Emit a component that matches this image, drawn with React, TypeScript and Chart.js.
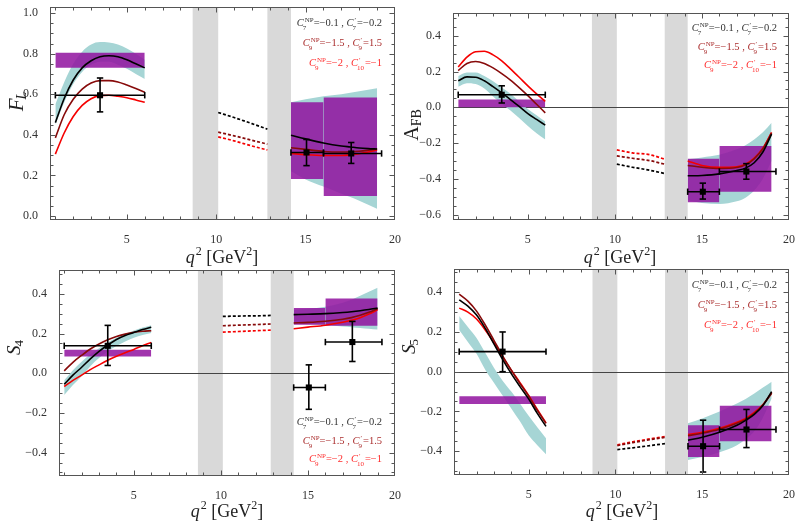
import React, { useEffect, useRef } from "react";
import { Chart, registerables } from "chart.js";

Chart.register(...registerables);

// ---------- q² grids (GeV²) ----------
const qLow = [1, 1.5, 2, 2.5, 3, 3.5, 4, 4.5, 5, 5.5, 6];
const qMid = [10.11, 11, 12, 12.86];
const qHigh = [14.18, 15, 16, 17, 17.5, 18, 18.5, 19];

// charmonium veto windows
const vetoBands = [
  [8.68, 10.11],
  [12.86, 14.18],
];

// experimental bins and data points
const binLo = [1, 14.18, 16];
const binHi = [6, 16, 19];
const pointQ = [3.5, 15.05, 17.55];
const pointQLo = [1, 14.18, 16];
const pointQHi = [6, 16, 19.25];

// ---------- F_L ----------
const flBlackLow = [0.46, 0.58, 0.67, 0.73, 0.765, 0.785, 0.79, 0.785, 0.77, 0.75, 0.73];
const flDarkLow = [0.385, 0.5, 0.575, 0.625, 0.655, 0.667, 0.667, 0.66, 0.645, 0.628, 0.61];
const flRedLow = [0.305, 0.41, 0.49, 0.545, 0.578, 0.593, 0.595, 0.59, 0.583, 0.572, 0.56];
const flSmLoLow = [0.45, 0.56, 0.65, 0.71, 0.745, 0.76, 0.76, 0.745, 0.725, 0.7, 0.675];
const flSmHiLow = [0.55, 0.66, 0.75, 0.81, 0.845, 0.857, 0.855, 0.845, 0.825, 0.8, 0.77];
const flBlackMid = [0.51, 0.485, 0.455, 0.428];
const flDarkMid = [0.413, 0.395, 0.373, 0.354];
const flRedMid = [0.39, 0.37, 0.345, 0.325];
const flBlackHigh = [0.398, 0.38, 0.36, 0.345, 0.34, 0.335, 0.332, 0.33];
const flDarkHigh = [0.336, 0.328, 0.318, 0.315, 0.316, 0.319, 0.324, 0.33];
const flRedHigh = [0.308, 0.302, 0.298, 0.298, 0.301, 0.307, 0.315, 0.325];
const flSmLoHigh = [0.22, 0.18, 0.145, 0.11, 0.093, 0.075, 0.055, 0.035];
const flSmHiHigh = [0.56, 0.575, 0.59, 0.6, 0.607, 0.615, 0.622, 0.63];
const flBoxMin = [0.73, 0.182, 0.098];
const flBoxMax = [0.805, 0.561, 0.584];
const flPt = [0.595, 0.313, 0.308];
const flPtLo = [0.513, 0.248, 0.259];
const flPtHi = [0.68, 0.377, 0.362];

// ---------- A_FB ----------
const afbBlackLow = [0.148, 0.17, 0.168, 0.148, 0.115, 0.08, 0.043, 0.005, -0.035, -0.068, -0.1];
const afbDarkLow = [0.205, 0.245, 0.256, 0.245, 0.22, 0.188, 0.152, 0.11, 0.065, 0.017, -0.031];
const afbRedLow = [0.225, 0.28, 0.31, 0.313, 0.293, 0.26, 0.215, 0.168, 0.12, 0.075, 0.033];
const afbSmLoLow = [0.115, 0.135, 0.13, 0.105, 0.06, 0.02, -0.018, -0.06, -0.105, -0.145, -0.18];
const afbSmHiLow = [0.175, 0.195, 0.195, 0.175, 0.145, 0.11, 0.075, 0.033, -0.01, -0.045, -0.08];
const afbBlackMid = [-0.318, -0.335, -0.352, -0.37];
const afbDarkMid = [-0.272, -0.285, -0.298, -0.318];
const afbRedMid = [-0.238, -0.255, -0.265, -0.29];
const afbBlackHigh = [-0.383, -0.381, -0.372, -0.353, -0.34, -0.31, -0.25, -0.15];
const afbDarkHigh = [-0.325, -0.335, -0.342, -0.337, -0.322, -0.288, -0.232, -0.145];
const afbRedHigh = [-0.3, -0.325, -0.336, -0.332, -0.318, -0.284, -0.228, -0.14];
const afbSmLoHigh = [-0.52, -0.535, -0.54, -0.525, -0.505, -0.465, -0.4, -0.3];
const afbSmHiHigh = [-0.29, -0.28, -0.265, -0.235, -0.212, -0.18, -0.14, -0.087];
const afbBoxMin = [0, -0.531, -0.472];
const afbBoxMax = [0.043, -0.287, -0.217];
const afbPt = [0.07, -0.472, -0.359];
const afbPtLo = [0.024, -0.513, -0.402];
const afbPtHi = [0.12, -0.424, -0.315];

// ---------- S_4 ----------
const s4BlackLow = [-0.056, -0.01, 0.03, 0.072, 0.11, 0.142, 0.17, 0.19, 0.205, 0.22, 0.232];
const s4DarkLow = [0.012, 0.055, 0.09, 0.122, 0.147, 0.168, 0.185, 0.197, 0.206, 0.211, 0.214];
const s4RedLow = [-0.067, -0.036, -0.01, 0.018, 0.042, 0.065, 0.085, 0.103, 0.12, 0.138, 0.155];
const s4SmLoLow = [-0.11, -0.06, -0.015, 0.035, 0.076, 0.11, 0.137, 0.16, 0.178, 0.192, 0.202];
const s4SmHiLow = [-0.035, 0.015, 0.058, 0.095, 0.126, 0.155, 0.178, 0.198, 0.215, 0.23, 0.242];
const s4BlackMid = [0.286, 0.288, 0.289, 0.291];
const s4DarkMid = [0.239, 0.242, 0.245, 0.248];
const s4RedMid = [0.207, 0.21, 0.214, 0.217];
const s4BlackHigh = [0.295, 0.297, 0.3, 0.306, 0.31, 0.315, 0.321, 0.328];
const s4DarkHigh = [0.253, 0.256, 0.262, 0.272, 0.28, 0.292, 0.307, 0.325];
const s4RedHigh = [0.224, 0.232, 0.242, 0.257, 0.267, 0.28, 0.298, 0.32];
const s4SmLoHigh = [0.25, 0.247, 0.243, 0.235, 0.232, 0.228, 0.224, 0.22];
const s4SmHiHigh = [0.32, 0.325, 0.335, 0.355, 0.37, 0.39, 0.41, 0.43];
const s4BoxMin = [0.084, 0.244, 0.239];
const s4BoxMax = [0.118, 0.328, 0.376];
const s4Pt = [0.138, -0.072, 0.157];
const s4PtLo = [0.039, -0.182, 0.059];
const s4PtHi = [0.241, 0.042, 0.261];

// ---------- S_5 ----------
const s5BlackLow = [0.362, 0.33, 0.285, 0.218, 0.14, 0.062, -0.01, -0.075, -0.137, -0.21, -0.275];
const s5DarkLow = [0.39, 0.355, 0.305, 0.235, 0.158, 0.08, 0.008, -0.06, -0.122, -0.195, -0.26];
const s5RedLow = [0.32, 0.3, 0.265, 0.21, 0.146, 0.075, 0.008, -0.055, -0.12, -0.19, -0.258];
const s5SmLoLow = [0.21, 0.15, 0.09, 0.01, -0.055, -0.12, -0.185, -0.25, -0.32, -0.37, -0.415];
const s5SmHiLow = [0.28, 0.225, 0.17, 0.095, 0.02, -0.045, -0.1, -0.16, -0.222, -0.28, -0.335];
const s5BlackMid = [-0.392, -0.383, -0.372, -0.362];
const s5DarkMid = [-0.372, -0.357, -0.342, -0.33];
const s5RedMid = [-0.368, -0.353, -0.338, -0.326];
const s5BlackHigh = [-0.345, -0.33, -0.305, -0.27, -0.245, -0.215, -0.17, -0.1];
const s5DarkHigh = [-0.322, -0.31, -0.29, -0.26, -0.24, -0.21, -0.168, -0.108];
const s5RedHigh = [-0.316, -0.305, -0.285, -0.255, -0.235, -0.205, -0.165, -0.105];
const s5SmLoHigh = [-0.445, -0.43, -0.405, -0.37, -0.34, -0.3, -0.23, -0.135];
const s5SmHiHigh = [-0.26, -0.235, -0.2, -0.16, -0.137, -0.11, -0.08, -0.05];
const s5BoxMin = [-0.163, -0.429, -0.35];
const s5BoxMax = [-0.123, -0.269, -0.172];
const s5Pt = [0.101, -0.375, -0.291];
const s5PtLo = [0.0, -0.505, -0.382];
const s5PtHi = [0.2, -0.244, -0.19];

// ---------- styling ----------
const W = 795;
const H = 521;
const SERIF = '"Liberation Serif", "Times New Roman", serif';
const TEAL = "rgb(166,213,213)";
const PURPLE = "rgba(145,20,160,0.86)";
const VETO = "rgb(217,217,217)";
const C_BLACK = "#000000";
const C_DARK = "rgb(135,10,10)";
const C_RED = "rgb(245,0,0)";
const FRAME = "#555555";
const Y_AXIS_W = 45;
const X_AXIS_H = 30;

type Seg = { t: string; it?: boolean; sub?: string; subIt?: boolean; sup?: string };

const legendLines: { segs: Seg[]; color: string }[] = [
  {
    segs: [
      { t: "C", it: true, sub: "7", sup: "NP" },
      { t: "=\u22120.1 , " },
      { t: "C", it: true, sub: "7", sup: "\u2032" },
      { t: "=\u22120.2" },
    ],
    color: "#333333",
  },
  {
    segs: [
      { t: "C", it: true, sub: "9", sup: "NP" },
      { t: "=\u22121.5 , " },
      { t: "C", it: true, sub: "9", sup: "\u2032" },
      { t: "=1.5" },
    ],
    color: "rgb(170,45,45)",
  },
  {
    segs: [
      { t: "C", it: true, sub: "9", sup: "NP" },
      { t: "=\u22122 , " },
      { t: "C", it: true, sub: "10", sup: "\u2032" },
      { t: "=\u22121" },
    ],
    color: "rgb(255,45,45)",
  },
];

const xTitle: Seg[] = [{ t: "q", it: true, sup: "2" }, { t: " [GeV", sup: "2" }, { t: "]" }];

function fontOf(size: number, italic?: boolean) {
  return `${italic ? "italic " : ""}${size}px ${SERIF}`;
}

function richWidth(ctx: CanvasRenderingContext2D, segs: Seg[], size: number, scr: number) {
  let w = 0;
  for (const s of segs) {
    ctx.font = fontOf(size, s.it);
    w += ctx.measureText(s.t).width;
    let sw = 0;
    if (s.sub) {
      ctx.font = fontOf(scr, s.subIt);
      sw = Math.max(sw, ctx.measureText(s.sub).width);
    }
    if (s.sup) {
      ctx.font = fontOf(scr);
      sw = Math.max(sw, ctx.measureText(s.sup).width + (s.it ? 1 : 0));
    }
    w += sw;
  }
  return w;
}

function drawRich(
  ctx: CanvasRenderingContext2D,
  segs: Seg[],
  x: number,
  yMid: number,
  size: number,
  scr: number,
  align: "right" | "center",
  color: string,
  subDrop = 0.3
) {
  const total = richWidth(ctx, segs, size, scr);
  let cx = align === "right" ? x - total : x - total / 2;
  const base = yMid + size * 0.33;
  ctx.fillStyle = color;
  ctx.textAlign = "left";
  ctx.textBaseline = "alphabetic";
  for (const s of segs) {
    ctx.font = fontOf(size, s.it);
    ctx.fillText(s.t, cx, base);
    cx += ctx.measureText(s.t).width;
    let sw = 0;
    if (s.sub) {
      ctx.font = fontOf(scr, s.subIt);
      ctx.fillText(s.sub, cx - (s.it ? 1 : 0), base + size * subDrop);
      sw = Math.max(sw, ctx.measureText(s.sub).width);
    }
    if (s.sup) {
      ctx.font = fontOf(scr);
      const off = s.it ? 1 : 0;
      ctx.fillText(s.sup, cx + off, base - size * 0.45);
      sw = Math.max(sw, ctx.measureText(s.sup).width + off);
    }
    cx += sw;
  }
}

type Panel = {
  area: { l: number; t: number; r: number; b: number };
  yMin: number;
  yMax: number;
  yTicks: number[];
  zeroLine: boolean;
  yTitle: Seg[];
  yTitleSize: number;
  yTitlePos: [number, number];
  xTitlePos: [number, number];
  legendRight: number;
  legendYs: number[];
  black: number[][];
  dark: number[][];
  red: number[][];
  smLo: number[][];
  smHi: number[][];
  boxMin: number[];
  boxMax: number[];
  pt: number[];
  ptLo: number[];
  ptHi: number[];
};

const panels: Panel[] = [
  {
    area: { l: 50, t: 7, r: 395, b: 220 },
    yMin: -0.02,
    yMax: 1.03,
    yTicks: [0, 0.2, 0.4, 0.6, 0.8, 1.0],
    zeroLine: false,
    yTitle: [{ t: "F", it: true, sub: "L", subIt: true }],
    yTitleSize: 21,
    yTitlePos: [16, 101],
    xTitlePos: [222, 257],
    legendRight: 382,
    legendYs: [23, 43, 63],
    black: [flBlackLow, flBlackMid, flBlackHigh],
    dark: [flDarkLow, flDarkMid, flDarkHigh],
    red: [flRedLow, flRedMid, flRedHigh],
    smLo: [flSmLoLow, flSmLoHigh],
    smHi: [flSmHiLow, flSmHiHigh],
    boxMin: flBoxMin,
    boxMax: flBoxMax,
    pt: flPt,
    ptLo: flPtLo,
    ptHi: flPtHi,
  },
  {
    area: { l: 453, t: 13, r: 789, b: 220 },
    yMin: -0.63,
    yMax: 0.527,
    yTicks: [-0.6, -0.4, -0.2, 0, 0.2, 0.4],
    zeroLine: true,
    yTitle: [{ t: "A", sub: "FB" }],
    yTitleSize: 20,
    yTitlePos: [411, 125],
    xTitlePos: [620, 257],
    legendRight: 777,
    legendYs: [28, 47, 65],
    black: [afbBlackLow, afbBlackMid, afbBlackHigh],
    dark: [afbDarkLow, afbDarkMid, afbDarkHigh],
    red: [afbRedLow, afbRedMid, afbRedHigh],
    smLo: [afbSmLoLow, afbSmLoHigh],
    smHi: [afbSmHiLow, afbSmHiHigh],
    boxMin: afbBoxMin,
    boxMax: afbBoxMax,
    pt: afbPt,
    ptLo: afbPtLo,
    ptHi: afbPtHi,
  },
  {
    area: { l: 59, t: 270, r: 395, b: 476 },
    yMin: -0.518,
    yMax: 0.52,
    yTicks: [-0.4, -0.2, 0, 0.2, 0.4],
    zeroLine: true,
    yTitle: [{ t: "S", it: true, sub: "4" }],
    yTitleSize: 19,
    yTitlePos: [14, 347],
    xTitlePos: [227, 511],
    legendRight: 382,
    legendYs: [422, 441, 459],
    black: [s4BlackLow, s4BlackMid, s4BlackHigh],
    dark: [s4DarkLow, s4DarkMid, s4DarkHigh],
    red: [s4RedLow, s4RedMid, s4RedHigh],
    smLo: [s4SmLoLow, s4SmLoHigh],
    smHi: [s4SmHiLow, s4SmHiHigh],
    boxMin: s4BoxMin,
    boxMax: s4BoxMax,
    pt: s4Pt,
    ptLo: s4PtLo,
    ptHi: s4PtHi,
  },
  {
    area: { l: 454, t: 269, r: 789, b: 475 },
    yMin: -0.52,
    yMax: 0.517,
    yTicks: [-0.4, -0.2, 0, 0.2, 0.4],
    zeroLine: true,
    yTitle: [{ t: "S", it: true, sub: "5" }],
    yTitleSize: 19,
    yTitlePos: [409, 346],
    xTitlePos: [622, 511],
    legendRight: 777,
    legendYs: [285, 305, 325],
    black: [s5BlackLow, s5BlackMid, s5BlackHigh],
    dark: [s5DarkLow, s5DarkMid, s5DarkHigh],
    red: [s5RedLow, s5RedMid, s5RedHigh],
    smLo: [s5SmLoLow, s5SmLoHigh],
    smHi: [s5SmHiLow, s5SmHiHigh],
    boxMin: s5BoxMin,
    boxMax: s5BoxMax,
    pt: s5Pt,
    ptLo: s5PtLo,
    ptHi: s5PtHi,
  },
];

const pts = (qs: number[], ys: number[]) => qs.map((q, i) => ({ x: q, y: ys[i] }));

function buildDatasets(p: Panel) {
  const ds: any[] = [];
  // SM band (teal), low and high q² regions
  [qLow, qHigh].forEach((qs, r) => {
    ds.push({
      data: pts(qs, p.smLo[r]),
      borderWidth: 0,
      borderColor: "transparent",
      pointRadius: 0,
      fill: false,
      cubicInterpolationMode: "monotone",
      order: 6,
    });
    ds.push({
      data: pts(qs, p.smHi[r]),
      borderWidth: 0,
      borderColor: "transparent",
      backgroundColor: TEAL,
      pointRadius: 0,
      fill: "-1",
      cubicInterpolationMode: "monotone",
      order: 6,
    });
  });
  // binned predictions (purple boxes)
  binLo.forEach((q0, i) => {
    const q1 = binHi[i];
    ds.push({
      data: [
        { x: q0, y: p.boxMin[i] },
        { x: q1, y: p.boxMin[i] },
      ],
      borderWidth: 0,
      borderColor: "transparent",
      pointRadius: 0,
      fill: false,
      order: 5,
    });
    ds.push({
      data: [
        { x: q0, y: p.boxMax[i] },
        { x: q1, y: p.boxMax[i] },
      ],
      borderWidth: 0,
      borderColor: "transparent",
      backgroundColor: PURPLE,
      pointRadius: 0,
      fill: "-1",
      order: 5,
    });
  });
  // new-physics scenario curves
  const curves: [number[][], string, number][] = [
    [p.black, C_BLACK, 3],
    [p.dark, C_DARK, 4],
    [p.red, C_RED, 4],
  ];
  curves.forEach(([sets, color, order]) => {
    [qLow, qMid, qHigh].forEach((qs, r) => {
      const dashed = r === 1;
      ds.push({
        data: pts(qs, sets[r]),
        borderColor: color,
        borderWidth: dashed ? 1.7 : 1.6,
        borderDash: dashed ? [3, 2] : [],
        pointRadius: 0,
        fill: false,
        cubicInterpolationMode: "monotone",
        order,
      });
    });
  });
  // measurements with error bars
  pointQ.forEach((q, i) => {
    ds.push({
      data: [
        { x: q, y: p.ptLo[i] },
        { x: q, y: p.ptHi[i] },
      ],
      borderColor: "#000",
      borderWidth: 1.6,
      pointStyle: "line",
      pointRadius: 3.2,
      pointBorderWidth: 1.6,
      pointBorderColor: "#000",
      pointRotation: 0,
      fill: false,
      order: 2,
    });
    ds.push({
      data: [
        { x: pointQLo[i], y: p.pt[i] },
        { x: pointQHi[i], y: p.pt[i] },
      ],
      borderColor: "#000",
      borderWidth: 1.6,
      pointStyle: "line",
      pointRadius: 3.2,
      pointBorderWidth: 1.6,
      pointBorderColor: "#000",
      pointRotation: 90,
      fill: false,
      order: 2,
    });
    ds.push({
      data: [{ x: q, y: p.pt[i] }],
      showLine: false,
      pointStyle: "rect",
      pointRadius: 4.3,
      pointBorderWidth: 0,
      pointBackgroundColor: "#000",
      fill: false,
      order: 1,
    });
  });
  return ds;
}

const fmtY = (v: number) => {
  const s = Math.abs(v) < 1e-9 ? "0.0" : v.toFixed(1);
  return s.replace("-", "\u2212");
};

const decorPlugin = {
  id: "panelDecor",
  beforeDatasetsDraw(chart: any, _args: any, opts: any) {
    const { ctx, chartArea: a, scales } = chart;
    const x = scales.x;
    const y = scales.y;
    ctx.save();
    ctx.fillStyle = VETO;
    for (const [q0, q1] of vetoBands) {
      const p0 = x.getPixelForValue(q0);
      const p1 = x.getPixelForValue(q1);
      ctx.fillRect(p0, a.top, p1 - p0, a.bottom - a.top);
    }
    if (opts.zeroLine) {
      const py = Math.round(y.getPixelForValue(0)) + 0.5;
      ctx.strokeStyle = "#444";
      ctx.lineWidth = 1;
      ctx.beginPath();
      ctx.moveTo(a.left, py);
      ctx.lineTo(a.right, py);
      ctx.stroke();
    }
    ctx.restore();
  },
  afterDraw(chart: any, _args: any, opts: any) {
    const { ctx, chartArea: a, scales } = chart;
    const x = scales.x;
    const y = scales.y;
    ctx.save();
    // frame
    ctx.strokeStyle = FRAME;
    ctx.lineWidth = 1;
    const L = Math.round(a.left) + 0.5;
    const R = Math.round(a.right) - 0.5;
    const T = Math.round(a.top) + 0.5;
    const B = Math.round(a.bottom) - 0.5;
    ctx.strokeRect(L, T, R - L, B - T);
    // inward ticks
    ctx.beginPath();
    for (let q = 1; q <= 20; q++) {
      const px = Math.round(x.getPixelForValue(q)) + 0.5;
      if (px < L || px > R) continue;
      const len = q % 5 === 0 ? 5 : 3;
      ctx.moveTo(px, B);
      ctx.lineTo(px, B - len);
      ctx.moveTo(px, T);
      ctx.lineTo(px, T + len);
    }
    const start = Math.ceil(y.min / 0.05);
    const end = Math.floor(y.max / 0.05);
    for (let k = start; k <= end; k++) {
      const v = k * 0.05;
      const py = Math.round(y.getPixelForValue(v)) + 0.5;
      if (py < T || py > B) continue;
      const len = k % 4 === 0 ? 5 : 3;
      ctx.moveTo(L, py);
      ctx.lineTo(L + len, py);
      ctx.moveTo(R, py);
      ctx.lineTo(R - len, py);
    }
    ctx.stroke();

    // axis titles
    drawRich(ctx, xTitle, opts.xTitlePos[0], opts.xTitlePos[1], 18, 12, "center", "#222");
    ctx.save();
    ctx.translate(opts.yTitlePos[0], opts.yTitlePos[1]);
    ctx.rotate(-Math.PI / 2);
    drawRich(
      ctx,
      opts.yTitle,
      0,
      0,
      opts.yTitleSize,
      Math.round(opts.yTitleSize * 0.68),
      "center",
      "#222",
      0.15
    );
    ctx.restore();

    // scenario labels
    legendLines.forEach((ln, i) => {
      drawRich(ctx, ln.segs, opts.legendRight, opts.legendYs[i], 10.5, 7, "right", ln.color);
    });
    ctx.restore();
  },
};

function buildConfig(p: Panel): any {
  const a = p.area;
  return {
    type: "line",
    data: { datasets: buildDatasets(p) },
    options: {
      animation: false,
      responsive: false,
      devicePixelRatio: 1,
      events: [],
      layout: {
        padding: {
          left: a.l - Y_AXIS_W,
          top: a.t,
          right: W - a.r,
          bottom: H - a.b - X_AXIS_H,
        },
      },
      scales: {
        x: {
          type: "linear",
          min: 0.7,
          max: 20,
          grid: { display: false },
          border: { display: false },
          ticks: {
            color: "#333",
            font: { family: SERIF, size: 12 },
            padding: 5,
            maxRotation: 0,
            autoSkip: false,
            callback: (v: number) => String(v),
          },
          afterBuildTicks: (s: any) => {
            s.ticks = [5, 10, 15, 20].map((v) => ({ value: v }));
          },
          afterFit: (s: any) => {
            s.height = X_AXIS_H;
            s.paddingLeft = 0;
            s.paddingRight = 0;
          },
        },
        y: {
          type: "linear",
          min: p.yMin,
          max: p.yMax,
          grid: { display: false },
          border: { display: false },
          ticks: {
            color: "#333",
            font: { family: SERIF, size: 12 },
            padding: 4,
            autoSkip: false,
            callback: (v: number) => fmtY(v),
          },
          afterBuildTicks: (s: any) => {
            s.ticks = p.yTicks.map((v) => ({ value: v }));
          },
          afterFit: (s: any) => {
            s.width = Y_AXIS_W;
            s.paddingTop = 0;
            s.paddingBottom = 0;
          },
        },
      },
      plugins: {
        legend: { display: false },
        tooltip: { enabled: false },
        panelDecor: {
          zeroLine: p.zeroLine,
          yTitle: p.yTitle,
          yTitleSize: p.yTitleSize,
          yTitlePos: p.yTitlePos,
          xTitlePos: p.xTitlePos,
          legendRight: p.legendRight,
          legendYs: p.legendYs,
        },
      },
    },
    plugins: [decorPlugin],
  };
}

function PanelCanvas({ panel }: { panel: Panel }) {
  const ref = useRef<HTMLCanvasElement | null>(null);
  useEffect(() => {
    if (!ref.current) return;
    const chart = new Chart(ref.current, buildConfig(panel));
    return () => chart.destroy();
  }, [panel]);
  return (
    <canvas
      ref={ref}
      width={W}
      height={H}
      style={{ position: "absolute", left: 0, top: 0, width: W, height: H }}
    />
  );
}

export default function App() {
  return (
    <div
      style={{
        position: "absolute",
        left: 0,
        top: 0,
        width: W,
        height: H,
        background: "#ffffff",
        overflow: "hidden",
      }}
    >
      {panels.map((p, i) => (
        <PanelCanvas key={i} panel={p} />
      ))}
    </div>
  );
}
